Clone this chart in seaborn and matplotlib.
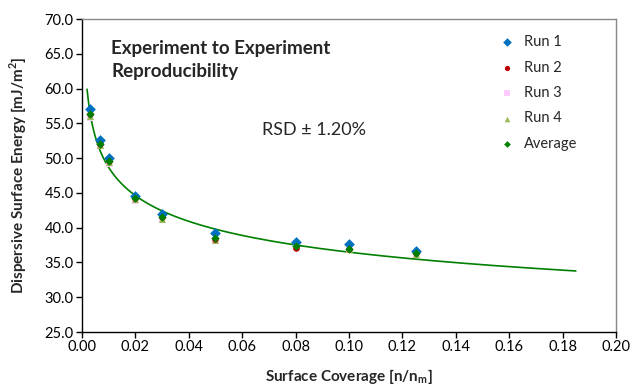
import numpy as np
import pandas as pd
import matplotlib
matplotlib.use("Agg")
import matplotlib.pyplot as plt
import seaborn as sns

# surface coverage [n/nm]
coverage = [0.003, 0.0067, 0.01, 0.02, 0.03, 0.05, 0.08, 0.10, 0.125]

run1 = [57.0, 52.6, 50.0, 44.6, 42.0, 39.2, 38.0, 37.6, 36.7]
run2 = [56.3, 52.0, 49.6, 44.2, 41.5, 38.4, 37.1, 36.9, 36.3]
run3 = [55.8, 51.7, 49.2, 43.9, 41.2, 38.2, 37.3, 36.8, 36.1]
run4 = [56.0, 51.9, 49.5, 44.1, 41.3, 38.2, 37.4, 36.9, 36.2]
average = [56.3, 52.0, 49.6, 44.2, 41.5, 38.5, 37.4, 37.0, 36.3]

series = ["Run 1", "Run 2", "Run 3", "Run 4", "Average"]
trend_range = (0.0019, 0.185)

df = pd.DataFrame({"Run 1": run1, "Run 2": run2, "Run 3": run3,
                   "Run 4": run4, "Average": average}, index=coverage)
df = df.reset_index(names="coverage").melt(id_vars="coverage", var_name="series",
                                           value_name="energy")

sns.set_style("white")
plt.rcParams["font.family"] = ["Lato", "DejaVu Sans"]

fig = plt.figure(figsize=(6.33, 3.89), dpi=100)
ax = fig.add_axes([0.1295, 0.1465, 0.8435, 0.8045])

palette = {"Run 1": "#0070C0", "Run 2": "#C00000", "Run 3": "#FFCCFF",
           "Run 4": "#9BBB59", "Average": "#008000"}
markers = {"Run 1": "D", "Run 2": "o", "Run 3": "s", "Run 4": "^", "Average": "D"}
sizes = {"Run 1": 30, "Run 2": 22, "Run 3": 22, "Run 4": 26, "Average": 18}

for name in ["Run 3", "Run 4", "Run 2", "Run 1", "Average"]:
    sub = df[df["series"] == name]
    sns.scatterplot(data=sub, x="coverage", y="energy", ax=ax, color=palette[name],
                    marker=markers[name], s=sizes[name], linewidth=0, label=name,
                    zorder=3)

# power-law trendline fitted to the average
b, loga = np.polyfit(np.log(coverage), np.log(average), 1)
xs = np.linspace(trend_range[0], trend_range[1], 300)
sns.lineplot(x=xs, y=np.exp(loga) * xs ** b, ax=ax, color="#008000", lw=1.2,
             zorder=2, legend=False)

ax.set_xlim(0, 0.2)
ax.set_ylim(25, 70)
ax.set_xticks(np.arange(0, 0.201, 0.02))
ax.set_yticks(np.arange(25, 70.1, 5))
ax.xaxis.set_major_formatter(matplotlib.ticker.FormatStrFormatter("%.2f"))
ax.yaxis.set_major_formatter(matplotlib.ticker.FormatStrFormatter("%.1f"))
ax.tick_params(axis="both", direction="out", length=4, width=1, labelsize=10.5,
               colors="#000000", pad=2, left=True, bottom=True)

for side in ["left", "bottom"]:
    ax.spines[side].set_color("#000000")
    ax.spines[side].set_linewidth(1)
for side in ["top", "right"]:
    ax.spines[side].set_color("#888888")
    ax.spines[side].set_linewidth(1)

ax.set_xlabel("Surface Coverage [n/n$_\\mathregular{m}$]", fontsize=11,
              fontweight="bold", labelpad=9)
ax.set_ylabel("Dispersive Surface Energy [mJ/m$^\\mathregular{2}$]", fontsize=11,
              fontweight="bold", labelpad=11)

ax.text(0.011, 67.0, "Experiment to Experiment\nReproducibility", fontsize=13.5,
        fontweight="bold", va="top", ha="left", linespacing=1.45)
ax.text(0.0675, 54.0, "RSD \u00b1 1.20%", fontsize=13, va="center", ha="left")

handles, labels = ax.get_legend_handles_labels()
order = [labels.index(s) for s in series]
ax.legend([handles[i] for i in order], series, loc="upper left",
          bbox_to_anchor=(0.745, 0.99), frameon=False, fontsize=10.5,
          handletextpad=0.1, labelspacing=0.78, borderaxespad=0.5,
          markerscale=0.8)

fig.savefig("out.png", dpi=100)
